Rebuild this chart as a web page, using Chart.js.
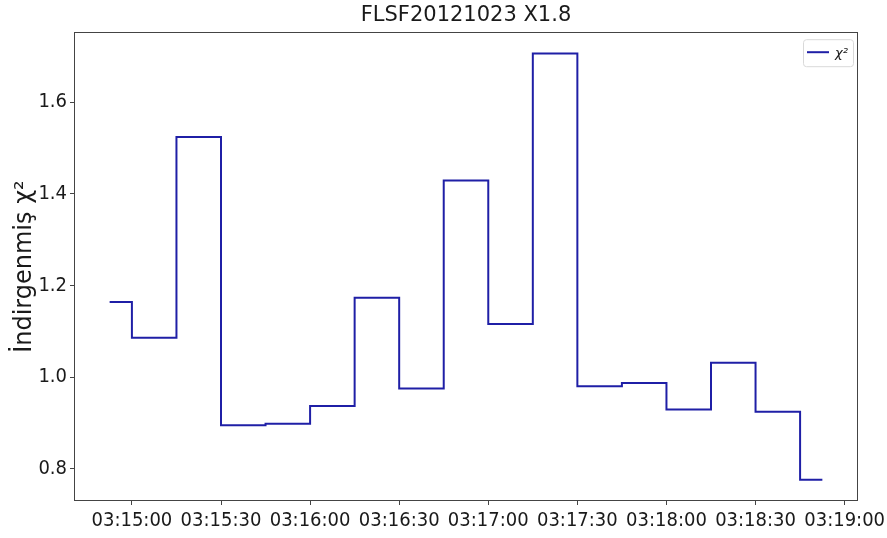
<!DOCTYPE html>
<html>
<head>
<meta charset="utf-8">
<script src="https://cdn.jsdelivr.net/npm/chart.js@4.4.1/dist/chart.umd.min.js"></script>
<style>
  html, body { margin: 0; padding: 0; background: #fff; }
  #wrap { width: 887px; height: 538px; }
</style>
</head>
<body>
<div id="wrap"><canvas id="chiChart"></canvas></div>
<script>
// reduced chi-square of each 15 s fit window (window centre times)
const sampleTimes = [
  "03:14:52.5", "03:15:07.5", "03:15:22.5", "03:15:37.5", "03:15:52.5", "03:16:07.5",
  "03:16:22.5", "03:16:37.5", "03:16:52.5", "03:17:07.5", "03:17:22.5", "03:17:37.5",
  "03:17:52.5", "03:18:07.5", "03:18:22.5", "03:18:37.5", "03:18:52.5",
];
const chiValues = [
  1.164, 1.086, 1.524, 0.895, 0.898, 0.937,
  1.173, 0.975, 1.429, 1.116, 1.706, 0.980,
  0.987, 0.929, 1.031, 0.924, 0.776,
];
const xTickLabels = [
  "03:15:00", "03:15:30", "03:16:00", "03:16:30", "03:17:00",
  "03:17:30", "03:18:00", "03:18:30", "03:19:00",
];
const yTickValues = [0.8, 1.0, 1.2, 1.4, 1.6];

const tickFont = { family: "'DejaVu Sans Condensed', 'DejaVu Sans', sans-serif", size: 20 };
const textColor = "#1a1a1a";
const lineColor = "#1f1fa6";

function toSeconds(hms) {
  const [h, m, s] = hms.split(":").map(Number);
  return h * 3600 + m * 60 + s;
}

function fmtTime(sec) {
  const pad = (n) => String(Math.floor(n)).padStart(2, "0");
  return `${pad(sec / 3600)}:${pad((sec % 3600) / 60)}:${pad(sec % 60)}`;
}

const points = sampleTimes.map((t, i) => ({ x: toSeconds(t), y: chiValues[i] }));
const tMin = points[0].x;
const tMax = points[points.length - 1].x;
const tPad = (tMax - tMin) * 0.05;
const vMin = Math.min(...chiValues);
const vMax = Math.max(...chiValues);
const vPad = (vMax - vMin) * 0.05;

// axes frame on all four sides plus the boxed legend in the upper right
const frameAndLegend = {
  id: "frameAndLegend",
  afterDraw(chart) {
    const { ctx, chartArea: a } = chart;
    ctx.save();
    ctx.strokeStyle = "#444";
    ctx.lineWidth = 1;
    ctx.strokeRect(Math.round(a.left) + 0.5, Math.round(a.top) + 0.5,
      Math.round(a.right - a.left) - 1, Math.round(a.bottom - a.top) - 1);

    const ds = chart.data.datasets[0];
    const bx = a.right - 55, by = a.top + 7, bw = 50, bh = 27;
    ctx.fillStyle = "rgba(255,255,255,0.8)";
    ctx.strokeStyle = "#d9d9d9";
    ctx.beginPath();
    ctx.roundRect(bx + 0.5, by + 0.5, bw, bh, 3);
    ctx.fill();
    ctx.stroke();
    ctx.strokeStyle = ds.borderColor;
    ctx.lineWidth = 2;
    ctx.beginPath();
    ctx.moveTo(bx + 4, by + 13);
    ctx.lineTo(bx + 26, by + 13);
    ctx.stroke();
    ctx.fillStyle = textColor;
    ctx.font = "italic 13px 'DejaVu Sans'";
    ctx.textBaseline = "middle";
    ctx.fillText(ds.label, bx + 32, by + 14);
    ctx.restore();
  },
};

new Chart(document.getElementById("chiChart"), {
  type: "line",
  data: {
    datasets: [{
      label: "χ²",
      data: points,
      stepped: "middle",
      borderColor: lineColor,
      borderWidth: 2,
      pointRadius: 0,
      fill: false,
    }],
  },
  options: {
    responsive: true,
    maintainAspectRatio: false,
    devicePixelRatio: 1,
    animation: false,
    layout: { padding: { left: 0, right: 29, top: 0, bottom: 0 } },
    plugins: {
      legend: { display: false },
      tooltip: { enabled: false },
      title: {
        display: true,
        fullSize: false,
        text: "FLSF20121023 X1.8",
        color: textColor,
        font: { family: "'DejaVu Sans', sans-serif", size: 21, weight: "normal" },
        padding: { top: 3, bottom: 4 },
      },
    },
    scales: {
      x: {
        type: "linear",
        min: tMin - tPad,
        max: tMax + tPad,
        border: { display: false },
        grid: { drawOnChartArea: false, drawTicks: true, tickLength: 4, tickColor: "#444" },
        ticks: {
          color: textColor,
          font: tickFont,
          padding: 4,
          autoSkip: false,
          maxRotation: 0,
          callback: (v) => fmtTime(v),
        },
        afterBuildTicks: (scale) => {
          scale.ticks = xTickLabels.map((l) => ({ value: toSeconds(l) }));
        },
        afterFit: (scale) => {
          scale.height = 37;
          scale.paddingLeft = 0;
          scale.paddingRight = 0;
        },
      },
      y: {
        min: vMin - vPad,
        max: vMax + vPad,
        border: { display: false },
        grid: { drawOnChartArea: false, drawTicks: true, tickLength: 4, tickColor: "#444" },
        ticks: {
          color: textColor,
          font: tickFont,
          padding: 3,
          callback: (v) => v.toFixed(1),
        },
        afterBuildTicks: (scale) => {
          scale.ticks = yTickValues.map((v) => ({ value: v }));
        },
        afterFit: (scale) => {
          scale.width = 74;
        },
        title: {
          display: true,
          text: "İndirgenmiş χ²",
          color: textColor,
          font: { family: "'DejaVu Sans', sans-serif", size: 24 },
          padding: { top: 10, bottom: 0 },
        },
      },
    },
  },
  plugins: [frameAndLegend],
});
</script>
</body>
</html>
